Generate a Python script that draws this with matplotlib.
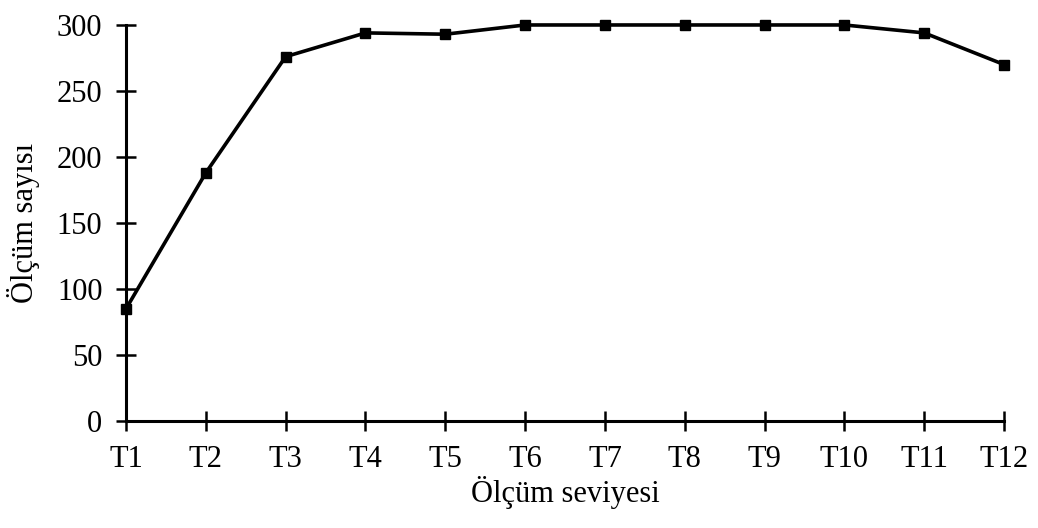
import matplotlib.pyplot as plt

plt.rcParams['font.family'] = ['Liberation Serif', 'DejaVu Serif']

labels = ["T1", "T2", "T3", "T4", "T5", "T6", "T7", "T8", "T9", "T10", "T11", "T12"]
values = [85, 188, 276, 294, 293, 300, 300, 300, 300, 300, 294, 270]
yticks = [0, 50, 100, 150, 200, 250, 300]


def main():
    fig = plt.figure(figsize=(10.38, 5.28), dpi=100)
    ax = fig.add_axes([0.1214, 0.2027, 0.8459, 0.75])
    x = list(range(len(labels)))
    ax.plot(x, values, color='black', lw=2.6, marker='s', ms=7.5,
            clip_on=False, zorder=3)
    ax.set_xlim(0, len(labels) - 1)
    ax.set_ylim(0, 300)
    ax.set_xticks(x)
    ax.set_xticklabels(labels)
    ax.set_yticks(yticks)
    for s in ['top', 'right']:
        ax.spines[s].set_visible(False)
    for s in ['left', 'bottom']:
        ax.spines[s].set_linewidth(2.2)
    ax.tick_params(axis='both', direction='inout', length=14, width=1.8,
                   labelsize=22, pad=10)
    ax.tick_params(axis='y', pad=10)
    ax.set_xlabel("Ölçüm seviyesi", fontsize=22, labelpad=2)
    ax.set_ylabel("Ölçüm sayısı", fontsize=22, labelpad=12)
    fig.savefig("out.png", dpi=100)


if __name__ == "__main__":
    main()
